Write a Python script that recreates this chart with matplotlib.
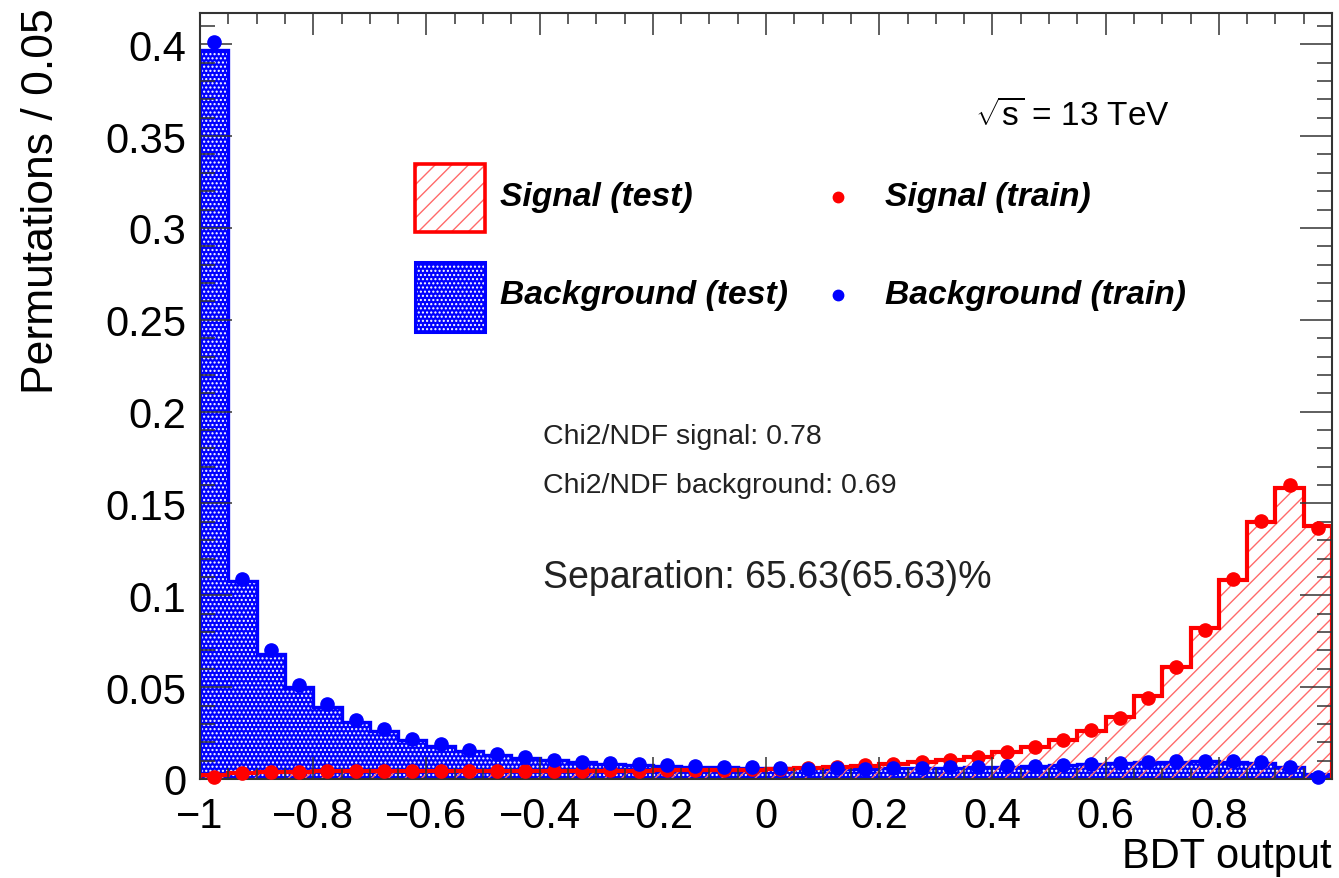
import numpy as np
import matplotlib
matplotlib.use("Agg")
import matplotlib.pyplot as plt
from matplotlib.ticker import MultipleLocator, FuncFormatter

plt.rcParams["font.family"] = ["Liberation Sans", "DejaVu Sans"]
plt.rcParams["mathtext.fontset"] = "custom"
plt.rcParams["mathtext.rm"] = "Liberation Sans"
plt.rcParams["hatch.linewidth"] = 1.0

# Bin edges of the BDT output (40 bins of 0.05)
bin_edges = np.linspace(-1.0, 1.0, 41)
bin_centers = 0.5 * (bin_edges[:-1] + bin_edges[1:])

# Background, test sample
bkg_test = [0.397, 0.108, 0.068, 0.050, 0.039, 0.031, 0.026, 0.021, 0.018, 0.0155,
            0.0133, 0.0117, 0.0103, 0.0090, 0.0083, 0.0077, 0.0072, 0.0068, 0.0065, 0.0062,
            0.0060, 0.0058, 0.0057, 0.0057, 0.0058, 0.0060, 0.0062, 0.0065, 0.0068, 0.0072,
            0.0076, 0.0080, 0.0085, 0.0090, 0.0093, 0.0096, 0.0094, 0.0088, 0.0068, 0.0028]
# Background, training sample
bkg_train = [0.401, 0.109, 0.070, 0.051, 0.041, 0.032, 0.027, 0.022, 0.019, 0.016,
             0.0138, 0.0120, 0.0106, 0.0094, 0.0086, 0.0080, 0.0075, 0.0071, 0.0068, 0.0064,
             0.0062, 0.0057, 0.0059, 0.0056, 0.0060, 0.0058, 0.0064, 0.0066, 0.0070, 0.0071,
             0.0078, 0.0082, 0.0087, 0.0092, 0.0096, 0.0098, 0.0097, 0.0090, 0.0065, 0.0012]
# Signal, test sample
sig_test = [0.0020, 0.0034, 0.0038, 0.0040, 0.0041, 0.0042, 0.0042, 0.0043, 0.0043, 0.0044,
            0.0044, 0.0045, 0.0045, 0.0045, 0.0046, 0.0046, 0.0047, 0.0048, 0.0049, 0.0051,
            0.0054, 0.0059, 0.0065, 0.0072, 0.0080, 0.0090, 0.0104, 0.0120, 0.0145, 0.0176,
            0.0212, 0.0262, 0.0340, 0.0450, 0.0610, 0.0820, 0.1085, 0.1400, 0.1585, 0.1380]
# Signal, training sample
sig_train = [0.0012, 0.0033, 0.0039, 0.0040, 0.0042, 0.0041, 0.0043, 0.0042, 0.0044, 0.0043,
             0.0045, 0.0044, 0.0046, 0.0045, 0.0047, 0.0046, 0.0048, 0.0047, 0.0050, 0.0052,
             0.0056, 0.0060, 0.0066, 0.0074, 0.0080, 0.0094, 0.0104, 0.0122, 0.0145, 0.0172,
             0.0213, 0.0268, 0.0332, 0.0442, 0.0612, 0.0812, 0.1090, 0.1405, 0.1600, 0.1365]

legend_labels = ["Signal (test)", "Signal (train)", "Background (test)", "Background (train)"]
info_lines = ["Chi2/NDF signal: 0.78", "Chi2/NDF background: 0.69"]
separation_text = "Separation: 65.63(65.63)%"

fig = plt.figure(figsize=(13.39, 8.79), dpi=100)
ax = fig.add_axes([200 / 1339, 1 - 780 / 879, 1132 / 1339, 766 / 879])

# Background test: blue with white dot pattern
ax.stairs(bkg_test, bin_edges, fill=True, facecolor="#0000ff", edgecolor="white",
          hatch="....", linewidth=0)
ax.stairs(bkg_test, bin_edges, color="#0000ff", linewidth=2.4)

# Signal test: red hatched
ax.stairs(sig_test, bin_edges, fill=True, facecolor=(1, 1, 1, 0), edgecolor="#ff6a6a",
          hatch="//", linewidth=0)
ax.stairs(sig_test, bin_edges, color="#ff0000", linewidth=3.0)

# Training samples as points
ax.plot(bin_centers, sig_train, "o", color="#ff0000", markersize=9.5, clip_on=False, zorder=5)
ax.plot(bin_centers, bkg_train, "o", color="#0000ff", markersize=9.5, clip_on=False, zorder=5)

ax.set_xlim(-1, 1)
ax.set_ylim(0, 0.417)

# ROOT-like ticks
fmt = FuncFormatter(lambda v, p: f"{round(v, 3) + 0.0:g}".replace("-", "\u2212"))
ax.set_xticks(np.arange(-1.0, 0.81, 0.2))
ax.xaxis.set_minor_locator(MultipleLocator(0.05))
ax.yaxis.set_major_locator(MultipleLocator(0.05))
ax.yaxis.set_minor_locator(MultipleLocator(0.01))
ax.xaxis.set_major_formatter(fmt)
ax.yaxis.set_major_formatter(fmt)
ax.tick_params(which="both", direction="in", top=True, right=True, color="#333333",
               width=1.1, labelsize=30, labelcolor="black")
ax.tick_params(axis="y", which="major", length=23, pad=10)
ax.tick_params(axis="y", which="minor", length=11)
ax.tick_params(axis="x", which="major", length=16, pad=12)
ax.tick_params(axis="x", which="minor", length=8)
for s in ax.spines.values():
    s.set_linewidth(1.5)
    s.set_color("#333333")

# Axis titles
fig.text(42 / 1339, 1 - 8 / 879, "Permutations / 0.05", rotation=90, ha="center", va="top",
         fontsize=32)
fig.text(1332 / 1339, 1 - 857 / 879, "BDT output", ha="right", va="center", fontsize=30)

# Legend drawn by hand in axes coordinates
ax.add_patch(plt.Rectangle((0.190, 0.714), 0.062, 0.089, transform=ax.transAxes,
                           facecolor="white", edgecolor="#ff6a6a", hatch="//", linewidth=0))
ax.add_patch(plt.Rectangle((0.190, 0.714), 0.062, 0.089, transform=ax.transAxes,
                           facecolor="none", edgecolor="#ff0000", linewidth=2.6))
ax.add_patch(plt.Rectangle((0.190, 0.584), 0.062, 0.091, transform=ax.transAxes,
                           facecolor="#0000ff", edgecolor="white", hatch="....", linewidth=0))
ax.add_patch(plt.Rectangle((0.190, 0.584), 0.062, 0.091, transform=ax.transAxes,
                           facecolor="none", edgecolor="#0000ff", linewidth=2.2))
ax.plot([0.5636], [0.760], "o", color="#ff0000", markersize=7.5, transform=ax.transAxes)
ax.plot([0.5636], [0.632], "o", color="#0000ff", markersize=7.5, transform=ax.transAxes)
leg_font = dict(fontsize=24.2, fontweight="bold", fontstyle="italic", va="center", ha="left",
                transform=ax.transAxes)
ax.text(0.265, 0.760, legend_labels[0], **leg_font)
ax.text(0.605, 0.760, legend_labels[1], **leg_font)
ax.text(0.265, 0.632, legend_labels[2], **leg_font)
ax.text(0.605, 0.632, legend_labels[3], **leg_font)

# Annotations
ax.text(0.685, 0.866, r"$\sqrt{\mathrm{s}}$ = 13 TeV", fontsize=24, va="center", ha="left",
        transform=ax.transAxes)
ax.text(0.303, 0.448, info_lines[0], fontsize=20.5, color="#222222", va="center",
        transform=ax.transAxes)
ax.text(0.303, 0.384, info_lines[1], fontsize=20.5, color="#222222", va="center",
        transform=ax.transAxes)
ax.text(0.303, 0.264, separation_text, fontsize=27, color="#222222", va="center",
        transform=ax.transAxes)

fig.savefig("out.png", dpi=100)
